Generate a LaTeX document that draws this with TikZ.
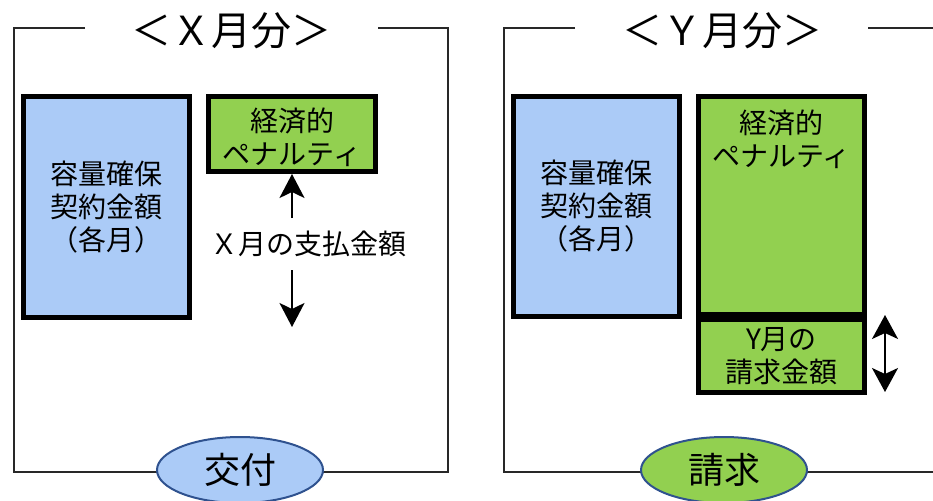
\documentclass[tikz,border=0pt]{standalone}
\usepackage{fontspec}
\setmainfont{Noto Sans CJK JP}
\usetikzlibrary{shapes.geometric,arrows.meta}
\definecolor{boxblue}{RGB}{171,203,247}
\definecolor{boxgreen}{RGB}{146,208,80}
\definecolor{ringblue}{RGB}{47,82,143}
\definecolor{framegray}{RGB}{40,40,40}
\tikzset{
  bigbox/.style={draw=black, line width=5pt, inner sep=0pt},
  boxtext/.style={font=\fontsize{28}{33}\selectfont, align=center, inner sep=0pt},
  titletext/.style={font=\fontsize{40}{44}\selectfont, inner sep=0pt},
  oval/.style={ellipse, draw=ringblue, line width=2pt, minimum width=166pt, minimum height=66pt, inner sep=0pt, font=\fontsize{36}{40}\selectfont},
  frame/.style={draw=framegray, line width=1.5pt},
  arr/.style={line width=2pt, -{Stealth[length=24pt,width=25pt,inset=6pt]}},
  darr/.style={line width=2pt, {Stealth[length=24pt,width=26pt,inset=6pt]}-{Stealth[length=24pt,width=26pt,inset=6pt]}}
}
\begin{document}
\begin{tikzpicture}[x=1pt,y=-1pt]
\useasboundingbox (0,0) rectangle (933,500);
% ---------- left panel ----------
\draw[frame] (85,28) -- (14,28) -- (14,472) -- (448,472) -- (448,28) -- (378,28);
\node[titletext] (t1) at (231,31) {＜Ｘ月分＞};
\node[bigbox, fill=boxblue, minimum width=166pt, minimum height=221pt] (b1) at (106.5,207) {};
\node[boxtext] (b1t) at (b1.center) {容量確保\\契約金額\\（各月）};
\node[bigbox, fill=boxgreen, minimum width=167pt, minimum height=75pt] (g1) at (292,134) {};
\node[boxtext] (g1t) at (292,137) {経済的\\ペナルティ};
\node[boxtext] (pay) at (308,244) {Ｘ月の支払金額};
\coordinate (a1) at (292,218);
\coordinate (a2s) at (292,270);
\coordinate (a2e) at (292,327);
\draw[arr] (a1) -- (g1.south);
\draw[arr] (a2s) -- (a2e);
\node[oval, fill=boxblue] (e1) at (240,470) {交付};
% ---------- right panel ----------
\draw[frame] (575,28) -- (504,28) -- (504,472) -- (933,472);
\draw[frame] (868,28) -- (933,28);
\node[titletext] (t2) at (722,31) {＜Ｙ月分＞};
\node[bigbox, fill=boxblue, minimum width=166pt, minimum height=220pt] (b2) at (596.5,206.5) {};
\node[boxtext] (b2t) at (b2.center) {容量確保\\契約金額\\（各月）};
\node[bigbox, fill=boxgreen, minimum width=166pt, minimum height=218pt] (g2) at (781.5,205.5) {};
\node[boxtext] (g2t) at (781.5,139.5) {経済的\\ペナルティ};
\node[bigbox, fill=boxgreen, minimum width=166pt, minimum height=73pt] (g3) at (781.5,356) {};
\node[boxtext] (g3t) at (g3.center) {Y月の\\請求金額};
\coordinate (d1) at (885,315);
\coordinate (d2) at (885,392);
\draw[darr] (d1) -- (d2);
\node[oval, fill=boxgreen] (e2) at (724,470) {請求};
\end{tikzpicture}
\end{document}
